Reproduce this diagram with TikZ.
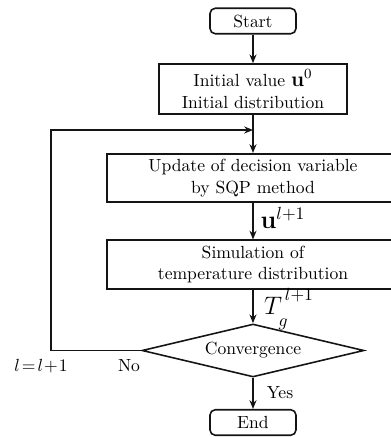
\documentclass[tikz,border=0pt]{standalone}
\usepackage{amsmath}
\usepackage{tikz}
\usetikzlibrary{shapes.geometric, arrows.meta, positioning}
\definecolor{mydark}{RGB}{20,20,20}
\tikzset{
  block/.style={rectangle, draw=mydark, fill=white,
    align=center, minimum width=5.84cm, minimum height=0.97cm,
    line width=0.9pt, inner sep=2pt},
  initblock/.style={rectangle, draw=mydark, fill=white,
    align=center, minimum width=3.76cm, minimum height=1.0cm,
    line width=0.9pt, inner sep=2pt},
  termblock/.style={rectangle, draw=mydark, fill=white,
    minimum width=1.72cm, minimum height=0.51cm,
    rounded corners=3pt, line width=0.9pt, inner sep=1pt},
  decision/.style={diamond, draw=mydark, fill=white, aspect=4.2,
    minimum width=4.44cm, minimum height=1.06cm,
    line width=0.9pt, inner sep=0pt},
  arrow/.style={-{Stealth[length=5pt,width=4pt]}, line width=0.9pt, color=mydark},
  line/.style={line width=0.9pt, color=mydark}
}

\begin{document}
\begin{tikzpicture}[x=0.02cm, y=-0.02cm, font=\fontsize{10}{12.5}\selectfont]
  \useasboundingbox (0,0) rectangle (391,437);
  \clip (0,0) rectangle (391,437);

  % Flow blocks
  \node[termblock] (start) at (253,21) {Start};
  \node[initblock] (init) at (253,89) {Initial value {\large$\mathbf{u}^{0}$}\\Initial distribution};
  \node[block] (update) at (253,178) {Update of decision variable\\by SQP method};
  \node[block] (sim) at (253,264.5) {Simulation of\\temperature distribution};
  \node[decision] (conv) at (253,350.5) {Convergence};
  \node[termblock] (end) at (253,422.5) {End};

  % Loop-back points
  \coordinate (join) at (253,130);
  \coordinate (loop) at (51,130);

  % Connections
  \draw[arrow] (start) -- (init);
  \draw[arrow] (init) -- (update);
  \draw[arrow] (update) -- (sim);
  \draw[arrow] (sim) -- (conv);
  \draw[arrow] (conv) -- (end);
  \draw[arrow] (conv.west) -| (loop) -- (join);

  % Labels
  \node (ulabel) at (283,218) {\Large$\mathbf{u}^{l+1}$};
  \node[inner sep=0pt] (tlabel) at (289,309)
    {\Large$T_{\raisebox{-3pt}{$\scriptstyle g$}}^{\,\raisebox{3pt}{$\scriptstyle l+1$}}$};
  \node (yes) at (280,393) {Yes};
  \node (no) at (129,366) {No};
  \node (incr) at (41,366) {$l\!=\!l\!+\!1$};
\end{tikzpicture}
\end{document}
